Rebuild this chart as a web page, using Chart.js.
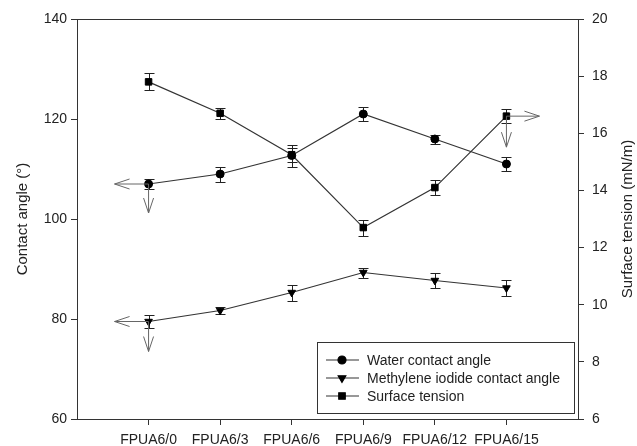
<!DOCTYPE html>
<html>
<head>
<meta charset="utf-8">
<script src="https://cdn.jsdelivr.net/npm/chart.js@4/dist/chart.umd.min.js"></script>
<style>
  html, body { margin: 0; padding: 0; background: #fff; }
  #wrap { width: 637px; height: 446px; }
</style>
</head>
<body>
<div id="wrap"><canvas id="c" width="637" height="446"></canvas></div>
<script>
// Samples and measured values
const categories = ['FPUA6/0', 'FPUA6/3', 'FPUA6/6', 'FPUA6/9', 'FPUA6/12', 'FPUA6/15'];
const waterAngle = [107, 109, 112.7, 121, 116, 111];
const waterErr = [1.1, 1.5, 2.2, 1.5, 0.9, 1.4];
const iodideAngle = [79.5, 81.7, 85.3, 89.3, 87.7, 86.2];
const iodideErr = [1.3, 0.8, 1.6, 1.0, 1.5, 1.6];
const surfaceTension = [17.8, 16.7, 15.25, 12.7, 14.1, 16.6];
const tensionErr = [0.3, 0.2, 0.25, 0.28, 0.25, 0.25];
const angleTicks = [60, 80, 100, 120, 140];
const tensionTicks = [6, 8, 10, 12, 14, 16, 18, 20];
const seriesNames = ['Water contact angle', 'Methylene iodide contact angle', 'Surface tension'];

const FONT = '"Liberation Sans", Arial, Helvetica, sans-serif';
const INK = '#222';
const LINE = '#333';

const toPoints = arr => arr.map((v, i) => ({ x: i, y: v }));

function arrow(ctx, x1, y1, x2, y2) {
  const ang = Math.atan2(y2 - y1, x2 - x1);
  const len = 15, half = 5;
  ctx.beginPath();
  ctx.moveTo(x1, y1);
  ctx.lineTo(x2, y2);
  const bx = x2 - len * Math.cos(ang), by = y2 - len * Math.sin(ang);
  const nx = -Math.sin(ang) * half, ny = Math.cos(ang) * half;
  ctx.moveTo(bx + nx, by + ny);
  ctx.lineTo(x2, y2);
  ctx.lineTo(bx - nx, by - ny);
  ctx.stroke();
}

const errorsFor = [waterErr, iodideErr, tensionErr];

const decor = {
  id: 'decor',
  beforeDatasetsDraw(chart) {
    const ctx = chart.ctx;
    const xs = chart.scales.x;
    ctx.save();
    ctx.strokeStyle = INK;
    ctx.lineWidth = 1;
    chart.data.datasets.forEach((ds, di) => {
      const ys = chart.scales[ds.yAxisID];
      ds.data.forEach((p, i) => {
        const e = errorsFor[di][i];
        const x = Math.round(xs.getPixelForValue(p.x)) + 0.5;
        const yt = Math.round(ys.getPixelForValue(p.y + e)) + 0.5;
        const yb = Math.round(ys.getPixelForValue(p.y - e)) + 0.5;
        ctx.beginPath();
        ctx.moveTo(x, yt); ctx.lineTo(x, yb);
        ctx.moveTo(x - 5, yt); ctx.lineTo(x + 5, yt);
        ctx.moveTo(x - 5, yb); ctx.lineTo(x + 5, yb);
        ctx.stroke();
      });
    });
    ctx.restore();
  },
  afterDraw(chart) {
    const ctx = chart.ctx;
    const a = chart.chartArea;
    const xs = chart.scales.x, yl = chart.scales.y, yr = chart.scales.y1;
    ctx.save();

    // top edge of the frame
    ctx.strokeStyle = LINE;
    ctx.lineWidth = 1;
    ctx.beginPath();
    ctx.moveTo(a.left, Math.round(a.top) + 0.5);
    ctx.lineTo(a.right, Math.round(a.top) + 0.5);
    ctx.stroke();

    // arrows pointing each series to its axis
    ctx.strokeStyle = '#666';
    ctx.lineWidth = 1;
    const wx = xs.getPixelForValue(0), wy = yl.getPixelForValue(waterAngle[0]);
    arrow(ctx, wx, wy, wx - 34, wy);
    arrow(ctx, wx, wy, wx, wy + 29);
    const mx = xs.getPixelForValue(0), my = yl.getPixelForValue(iodideAngle[0]);
    arrow(ctx, mx, my, mx - 34, my);
    arrow(ctx, mx, my, mx, my + 30);
    const sx = xs.getPixelForValue(5), sy = yr.getPixelForValue(surfaceTension[5]);
    arrow(ctx, sx, sy, sx + 33, sy);
    arrow(ctx, sx, sy, sx, sy + 31);

    // legend box
    const lx = 317.5, ly = 342.5, lw = 257, lh = 71;
    ctx.fillStyle = '#fff';
    ctx.fillRect(lx, ly, lw, lh);
    ctx.strokeStyle = LINE;
    ctx.strokeRect(lx, ly, lw, lh);
    const rows = [360, 378, 396];
    chart.data.datasets.forEach((ds, i) => {
      const y = rows[i];
      ctx.strokeStyle = LINE;
      ctx.lineWidth = 1.2;
      ctx.beginPath();
      ctx.moveTo(326, y); ctx.lineTo(359, y);
      ctx.stroke();
      ctx.fillStyle = '#000';
      ctx.strokeStyle = '#000';
      Chart.helpers.drawPoint(ctx, {
        pointStyle: ds.pointStyle, radius: ds.pointRadius, rotation: ds.pointRotation || 0, borderWidth: 1
      }, 342, y);
      ctx.fillStyle = INK;
      ctx.font = '14px ' + FONT;
      ctx.textAlign = 'left';
      ctx.textBaseline = 'middle';
      ctx.fillText(ds.label, 367, y + 1);
    });

    // axis titles
    const cy = (a.top + a.bottom) / 2;
    ctx.fillStyle = INK;
    ctx.font = '15px ' + FONT;
    ctx.textAlign = 'center';
    ctx.textBaseline = 'middle';
    ctx.save();
    ctx.translate(23, cy);
    ctx.rotate(-Math.PI / 2);
    ctx.fillText('Contact angle (\u00B0)', 0, 0);
    ctx.restore();
    ctx.save();
    ctx.translate(628, cy);
    ctx.rotate(-Math.PI / 2);
    ctx.fillText('Surface tension (mN/m)', 0, 0);
    ctx.restore();

    ctx.restore();
  }
};

const lineStyle = {
  borderColor: LINE,
  borderWidth: 1.2,
  backgroundColor: '#000',
  pointBackgroundColor: '#000',
  pointBorderColor: '#000',
  pointBorderWidth: 1,
  tension: 0,
  fill: false
};

new Chart(document.getElementById('c'), {
  type: 'line',
  data: {
    datasets: [
      Object.assign({ label: seriesNames[0], data: toPoints(waterAngle), yAxisID: 'y',
        pointStyle: 'circle', pointRadius: 4 }, lineStyle),
      Object.assign({ label: seriesNames[1], data: toPoints(iodideAngle), yAxisID: 'y',
        pointStyle: 'triangle', pointRadius: 4.4, pointRotation: 180 }, lineStyle),
      Object.assign({ label: seriesNames[2], data: toPoints(surfaceTension), yAxisID: 'y1',
        pointStyle: 'rect', pointRadius: 4.6 }, lineStyle)
    ]
  },
  options: {
    responsive: false,
    animation: false,
    devicePixelRatio: 1,
    layout: { padding: { top: 19, left: 0, right: 0, bottom: 0 } },
    plugins: { legend: { display: false }, tooltip: { enabled: false } },
    scales: {
      x: {
        type: 'linear',
        min: -1, max: 6,
        afterFit: s => { s.height = 27; },
        afterBuildTicks: s => { s.ticks = [-1, 0, 1, 2, 3, 4, 5, 6].map(v => ({ value: v })); },
        ticks: {
          autoSkip: false, maxRotation: 0, padding: 7,
          color: INK, font: { family: FONT, size: 14 },
          callback: v => categories[v] ?? ''
        },
        grid: {
          drawOnChartArea: false, drawTicks: true, tickLength: 6,
          tickColor: c => (c.tick && c.tick.value >= 0 && c.tick.value <= 5) ? LINE : 'rgba(0,0,0,0)'
        },
        border: { display: true, color: LINE, width: 1 }
      },
      y: {
        position: 'left',
        min: 60, max: 140,
        afterFit: s => { s.width = 77; },
        afterBuildTicks: s => { s.ticks = angleTicks.map(v => ({ value: v })); },
        ticks: { padding: 4, color: INK, font: { family: FONT, size: 14 } },
        grid: { drawOnChartArea: false, drawTicks: true, tickLength: 6, tickColor: LINE },
        border: { display: true, color: LINE, width: 1 }
      },
      y1: {
        position: 'right',
        min: 6, max: 20,
        afterFit: s => { s.width = 59; },
        afterBuildTicks: s => { s.ticks = tensionTicks.map(v => ({ value: v })); },
        ticks: { padding: 8, color: INK, font: { family: FONT, size: 14 } },
        grid: { drawOnChartArea: false, drawTicks: true, tickLength: 6, tickColor: LINE },
        border: { display: true, color: LINE, width: 1 }
      }
    }
  },
  plugins: [decor]
});
</script>
</body>
</html>
